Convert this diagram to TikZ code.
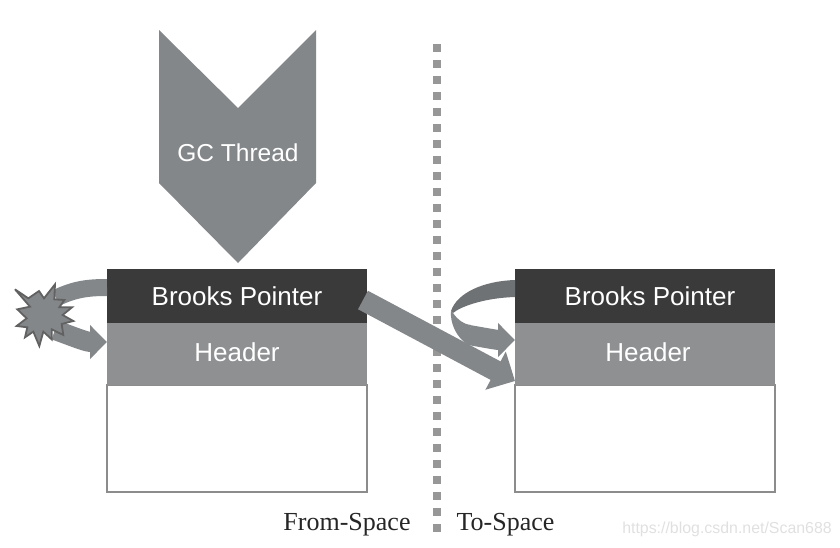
\documentclass[tikz,border=0pt]{standalone}
\usepackage{fontspec}
\setmainfont{Liberation Serif}
\setsansfont{Liberation Sans}
\usetikzlibrary{arrows.meta,positioning,shapes}
\definecolor{darkbox}{HTML}{3A3A3A}
\definecolor{midbox}{HTML}{8E9092}
\definecolor{rimbox}{HTML}{8C8C8C}
\definecolor{arrowgray}{HTML}{83878A}
\definecolor{loopgray}{HTML}{6F7274}
\tikzset{
  pointerbox/.style={fill=darkbox,text=white,font=\sffamily\fontsize{26}{26}\selectfont,minimum width=260pt,minimum height=54pt,inner sep=0pt,outer sep=0pt},
  headerbox/.style={fill=midbox,text=white,font=\sffamily\fontsize{26}{26}\selectfont,text depth=4pt,minimum width=260pt,minimum height=62pt,inner sep=0pt,outer sep=0pt},
  bodybox/.style={draw=rimbox,line width=1.5pt,fill=white,minimum width=260pt,minimum height=107pt,inner sep=0pt,outer sep=0pt},
  spacelabel/.style={font=\fontsize{26}{26}\selectfont,text=black!85,inner sep=0pt},
  block/.style={draw=arrowgray,line width=#1},
  blocktip/.style={-{Triangle[length=17pt,width=33pt]}}
}
\begin{document}
\begin{tikzpicture}[x=1pt,y=-1pt]
\useasboundingbox (0,0) rectangle (840,547);
% divider
\coordinate (d0) at (437,44);
\coordinate (d1) at (437,533);
\draw[draw=rimbox!90,line width=8pt,dash pattern=on 8pt off 8pt] (d0) -- (d1);
% thread
\fill[arrowgray] (159,30) -- (238,108) -- (316,30) -- (316,183) -- (238,263) -- (159,183) -- cycle;
\node[font=\sffamily\fontsize{24.5}{25}\selectfont,text=white,inner sep=0pt] (gc) at (238,153) {GC Thread};
% from-space object
\node[bodybox] (bd0) at (237,438.5) {};
\node[headerbox] (hd0) at (237,354) {Header};
\node[pointerbox] (bp0) at (237,296) {Brooks Pointer};
% to-space object
\node[bodybox] (bd1) at (645,438.5) {};
\node[headerbox] (hd1) at (645,354) {\hspace*{6pt}Header};
\node[pointerbox] (bp1) at (645,296) {\hspace*{10pt}Brooks Pointer};
% ends of the arrows
\coordinate (a0) at (107,287.5);
\coordinate (a1) at (56,298);
\coordinate (a2) at (55,330);
\coordinate (a3) at (107,342);
\coordinate (b0) at (515,288.5);
\coordinate (b1) at (451,311);
\coordinate (b3) at (469,335);
\coordinate (b2) at (515,340);
\coordinate (c0) at (363,300);
\coordinate (c1) at (515,381);
\draw[block=17pt] (a0) to[out=180,in=25] (a1);
\draw[block=20pt,blocktip] (a2) to[out=-20,in=180] (a3);
% loop on the to-space object
\fill[loopgray] (b0) ++(0,-8.5) .. controls (483,281) and (457,293) .. (b1)
  -- (453,313) .. controls (460,307) and (483,298) .. (515,297) -- cycle;
\fill[arrowgray] (b1) .. controls (450,323) and (456,337) .. (468,345)
  -- (471,325) .. controls (463,324) and (458,320) .. (453,313) -- cycle;
\draw[block=20pt,blocktip] (b3) to[out=-10,in=180] (b2);
\draw[block=21pt,-{Triangle[length=22pt,width=42pt]}] (c0) -- (c1);
% burst
\begin{scope}[shift={(0,250)},x=.3333pt,y=-.3333pt]
\filldraw[fill=arrowgray,draw=darkbox!80,line width=1.8pt,line join=miter,miter limit=4]
  (45,118) -- (85,145) -- (117,123) -- (132,145) -- (165,103) -- (163,148) -- (193,150) -- (178,172)
  -- (216,172) -- (188,195) -- (220,213) -- (185,222) -- (190,255) -- (155,238) -- (155,268) -- (130,245)
  -- (118,288) -- (100,245) -- (75,262) -- (82,232) -- (50,228) -- (80,205) -- (52,178) -- (90,170) -- cycle;
\end{scope}
% labels
\node[spacelabel] (from) at (347,525) {From-Space};
\node[spacelabel] (to) at (505.5,525) {To-Space};
\node[font=\sffamily\fontsize{15.9}{17}\selectfont,text=black!12,inner sep=0pt] (mark) at (727,529) {https://blog.csdn.net/Scan688};
\end{tikzpicture}
\end{document}
